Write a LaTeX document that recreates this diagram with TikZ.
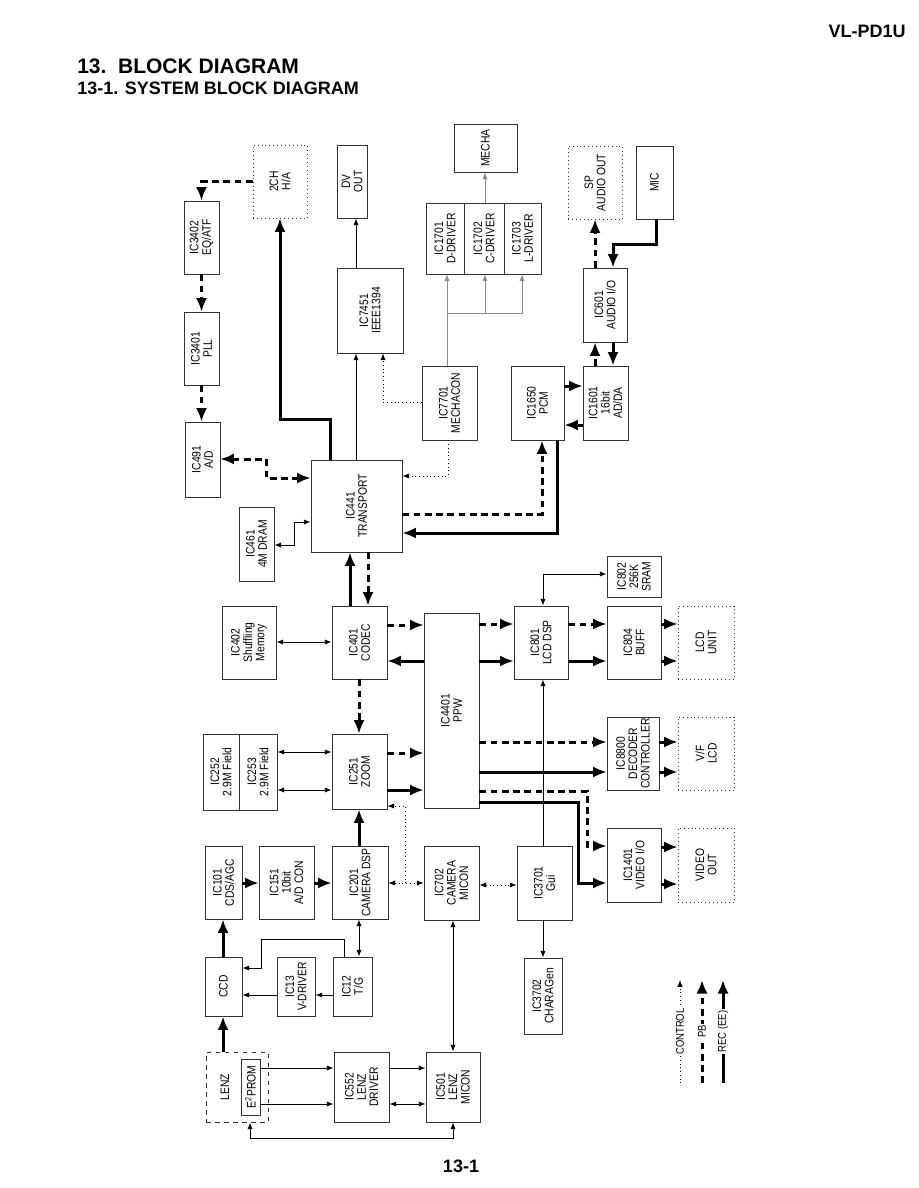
\documentclass[tikz,border=0pt]{standalone}
\usepackage{fontspec}
\setmainfont{Liberation Sans}
\newfontfamily\narrowsans[FakeStretch=0.84]{Liberation Sans}
\usetikzlibrary{arrows.meta}

\newcommand{\boxfont}{\narrowsans\fontsize{8.2}{8.2}\selectfont}
% block: name, x1, y1, x2, y2 (pixels), style, text
\newcommand{\blockat}[7]{%
  \pgfmathsetmacro{\bw}{(#4-#2)*0.6667}%
  \pgfmathsetmacro{\bh}{(#5-#3)*0.6667}%
  \node[#6, minimum width=\bw pt, minimum height=\bh pt,
    label={[rotate=90, align=center, font=\boxfont, inner sep=0pt]center:{#7}}]
    (#1) at ({(#2+#4)/2},{(#3+#5)/2}) {};}

\begin{document}
\begin{tikzpicture}[x=0.6667pt, y=-0.6667pt,
  blk/.style={draw=black!80, line width=0.6pt, inner sep=0pt},
  ext/.style={blk, dotted},
  lenzbox/.style={blk, dashed},
  sig/.style={line width=0.6pt, >={Latex[length=4.5pt,width=3.5pt]}, ->},
  ctl/.style={line width=0.5pt, dotted, >={Latex[length=4.5pt,width=3.5pt]}, ->},
  mech/.style={line width=0.5pt, black!45, >={Latex[length=4.5pt,width=3.5pt]}, ->},
  rec/.style={line width=2pt, >={Latex[length=9pt,width=7.5pt]}, ->},
  pb/.style={rec, dash pattern=on 4.5pt off 3pt},
  lgd/.style={rotate=90, fill=white, inner sep=1pt, font=\narrowsans\fontsize{7.5}{8}\selectfont}]
  \useasboundingbox (0,0) rectangle (918,1188);

  % Headings
  \node[font=\bfseries\fontsize{12}{14}\selectfont, anchor=east, inner sep=0] (model) at (906,31) {VL-PD1U};
  \node[font=\bfseries\fontsize{14}{17}\selectfont, anchor=west, inner sep=0] (title) at (77,66) {13.\ \ BLOCK DIAGRAM};
  \node[font=\bfseries\fontsize{12}{14}\selectfont, anchor=west, inner sep=0] (subtitle) at (77,88) {13-1. SYSTEM BLOCK DIAGRAM};
  \node[font=\bfseries\fontsize{12}{14}\selectfont, inner sep=0] (pageno) at (461,1166) {13-1};

  % Tape side
  \blockat{ha}{253}{145}{307}{218}{ext}{2CH\\H/A}
  \blockat{dvout}{337}{145}{367}{218}{blk}{DV\\OUT}
  \blockat{mecha}{454}{124}{517}{172}{blk}{MECHA}
  \blockat{drv1}{426}{203}{464}{274}{blk}{IC1701\\D-DRIVER}
  \blockat{drv2}{464}{203}{504}{274}{blk}{IC1702\\C-DRIVER}
  \blockat{drv3}{504}{203}{541}{274}{blk}{IC1703\\L-DRIVER}
  \blockat{spout}{568}{146}{622}{219}{ext}{SP\\AUDIO OUT}
  \blockat{mic}{636}{146}{673}{219}{blk}{MIC}
  \blockat{eqatf}{184}{201}{219}{274}{blk}{IC3402\\EQ/ATF}
  \blockat{pll}{184}{312}{219}{385}{blk}{IC3401\\PLL}
  \blockat{ieee}{337}{268}{403}{353}{blk}{IC7451\\IEEE1394}
  \blockat{audio}{583}{268}{627}{342}{blk}{IC601\\AUDIO I/O}
  \blockat{ad}{185}{422}{220}{497}{blk}{IC491\\A/D}
  \blockat{mechacon}{422}{366}{477}{440}{blk}{IC7701\\MECHACON}
  \blockat{pcm}{511}{366}{564}{440}{blk}{IC1650\\PCM}
  \blockat{adda}{583}{366}{628}{440}{blk}{IC1601\\16bit\\AD/DA}
  \blockat{transport}{311}{460}{402}{552}{blk}{IC441\\TRANSPORT}
  \blockat{dram}{239}{507}{274}{581}{blk}{IC461\\4M DRAM}

  % Video side
  \blockat{sram}{607}{556}{661}{597}{blk}{IC802\\256K\\SRAM}
  \blockat{shuf}{222}{606}{276}{679}{blk}{IC402\\Shuffling\\Memory}
  \blockat{codec}{332}{606}{387}{679}{blk}{IC401\\CODEC}
  \blockat{ppw}{424}{613}{479}{808}{blk}{IC4401\\PPW}
  \blockat{lcddsp}{514}{606}{568}{679}{blk}{IC801\\LCD DSP}
  \blockat{buff}{607}{606}{661}{679}{blk}{IC804\\BUFF}
  \blockat{lcdunit}{678}{606}{734}{679}{ext}{LCD\\UNIT}
  \blockat{fld1}{203}{734}{239}{810}{blk}{IC252\\2.9M Field}
  \blockat{fld2}{239}{734}{277}{810}{blk}{IC253\\2.9M Field}
  \blockat{zoom}{332}{734}{387}{809}{blk}{IC251\\ZOOM}
  \blockat{dec}{607}{717}{659}{790}{blk}{IC8800\\DECODER\\CONTROLLER}
  \blockat{vf}{678}{717}{734}{790}{ext}{V/F\\LCD}
  \blockat{vio}{607}{828}{661}{902}{blk}{IC1401\\VIDEO I/O}
  \blockat{vout}{678}{828}{734}{902}{ext}{VIDEO\\OUT}

  % Camera side
  \blockat{cds}{205}{846}{242}{919}{blk}{IC101\\CDS/AGC}
  \blockat{adcon}{259}{846}{314}{919}{blk}{IC151\\10bit\\A/D CON}
  \blockat{dsp}{332}{846}{388}{919}{blk}{IC201\\CAMERA DSP}
  \blockat{cmicon}{424}{846}{479}{920}{blk}{IC702\\CAMERA\\MICON}
  \blockat{gui}{517}{846}{572}{920}{blk}{IC3701\\Gui}
  \blockat{ccd}{205}{957}{242}{1016}{blk}{CCD}
  \blockat{vdrv}{277}{957}{315}{1016}{blk}{IC13\\V-DRIVER}
  \blockat{tg}{333}{957}{372}{1016}{blk}{IC12\\T/G}
  \blockat{chara}{524}{958}{562}{1034}{blk}{IC3702\\CHARAGen}
  \blockat{lenz}{206}{1052}{268}{1122}{lenzbox}{}
  \blockat{eprom}{241}{1059}{260}{1115}{blk}{E\textsuperscript{2}PROM}
  \blockat{ldrv}{334}{1052}{389}{1122}{blk}{IC552\\LENZ\\DRIVER}
  \blockat{lmicon}{426}{1052}{480}{1122}{blk}{IC501\\LENZ\\MICON}
  \node[rotate=90, font=\boxfont, inner sep=0pt] (lenzlbl) at (225,1087) {LENZ};

  % Heads and tape path
  \draw[pb] (ha.west |- 0,182) -| (eqatf.north);
  \draw[pb] (eqatf.south) -- (pll.north);
  \draw[pb] (pll.south) -- (pll.south |- ad.north);
  \draw[pb, <->] (ad.east |- 0,459) -| (266,478) -- (transport.west |- 0,478);
  \draw[rec] (transport.north -| 330,0) |- (280,419) -- (ha.south);
  \draw[sig] (transport.north -| 356,0) -- (ieee.south -| 356,0);
  \draw[sig] (ieee.north -| 356,0) -- (dvout.south -| 356,0);
  \draw[ctl] (mechacon.west |- 0,402) -| (ieee.south -| 383,0);
  \draw[ctl] (mechacon.south -| 448,0) |- (transport.east |- 0,476);
  \draw[mech] (mechacon.north -| 447,0) -- (drv1.south -| 447,0);
  \draw[mech] (447,313) -| (drv3.south -| 522,0);
  \draw[mech] (485,313) -- (drv2.south -| 485,0);
  \draw[mech] (drv2.north -| 485,0) -- (mecha.south -| 485,0);
  \draw[sig, <->] (dram.east |- 0,545) -| (294,522) -- (transport.west |- 0,522);

  % Audio
  \draw[pb] (audio.north -| 595,0) -- (spout.south -| 595,0);
  \draw[rec] (mic.south -| 656,0) |- (613,245) -- (audio.north -| 613,0);
  \draw[pb] (adda.north -| 595,0) -- (audio.south -| 595,0);
  \draw[rec] (audio.south -| 613,0) -- (adda.north -| 613,0);
  \draw[pb] (pcm.east |- 0,386) -- (adda.west |- 0,386);
  \draw[rec] (adda.west |- 0,425) -- (pcm.east |- 0,425);
  \draw[pb] (transport.east |- 0,514) -| (pcm.south -| 542,0);
  \draw[rec] (pcm.south -| 557,0) |- (transport.east |- 0,533);

  % Codec, zoom and PPW
  \draw[rec] (codec.north -| 350,0) -- (transport.south -| 350,0);
  \draw[pb] (transport.south -| 368,0) -- (codec.north -| 368,0);
  \draw[sig, <->] (shuf.east |- 0,642) -- (codec.west |- 0,642);
  \draw[pb] (codec.east |- 0,625) -- (ppw.west |- 0,625);
  \draw[rec] (ppw.west |- 0,661) -- (codec.east |- 0,661);
  \draw[pb] (codec.south -| 359,0) -- (zoom.north -| 359,0);
  \draw[sig, <->] (fld2.east |- 0,752) -- (zoom.west |- 0,752);
  \draw[sig, <->] (fld2.east |- 0,790) -- (zoom.west |- 0,790);
  \draw[pb] (zoom.east |- 0,753) -- (ppw.west |- 0,753);
  \draw[rec] (zoom.east |- 0,790) -- (ppw.west |- 0,790);

  % Displays and video out
  \draw[pb] (ppw.east |- 0,624) -- (lcddsp.west |- 0,624);
  \draw[rec] (ppw.east |- 0,661) -- (lcddsp.west |- 0,661);
  \draw[pb] (lcddsp.east |- 0,624) -- (buff.west |- 0,624);
  \draw[rec] (lcddsp.east |- 0,661) -- (buff.west |- 0,661);
  \draw[pb] (buff.east |- 0,624) -- (lcdunit.west |- 0,624);
  \draw[rec] (buff.east |- 0,661) -- (lcdunit.west |- 0,661);
  \draw[sig, <->] (lcddsp.north -| 543,0) |- (sram.west |- 0,574);
  \draw[pb] (ppw.east |- 0,742) -- (dec.west |- 0,742);
  \draw[rec] (ppw.east |- 0,772) -- (dec.west |- 0,772);
  \draw[pb] (dec.east |- 0,742) -- (vf.west |- 0,742);
  \draw[rec] (dec.east |- 0,772) -- (vf.west |- 0,772);
  \draw[pb] (ppw.east |- 0,791) -| (587,846) -- (vio.west |- 0,846);
  \draw[rec] (ppw.east |- 0,802) -| (578,883) -- (vio.west |- 0,883);
  \draw[pb] (vio.east |- 0,847) -- (vout.west |- 0,847);
  \draw[rec] (vio.east |- 0,884) -- (vout.west |- 0,884);
  \draw[sig] (gui.north -| 543,0) -- (lcddsp.south -| 543,0);
  \draw[sig] (gui.south -| 543,0) -- (chara.north -| 543,0);
  \draw[ctl, <->] (cmicon.east |- 0,885) -- (gui.west |- 0,885);

  % Camera
  \draw[ctl, <->] (dsp.east |- 0,883) -- (cmicon.west |- 0,883);
  \draw[ctl] (405,883) |- (zoom.east |- 0,806);
  \draw[rec] (dsp.north -| 359,0) -- (zoom.south -| 359,0);
  \draw[rec] (cds.east |- 0,883) -- (adcon.west |- 0,883);
  \draw[rec] (adcon.east |- 0,883) -- (dsp.west |- 0,883);
  \draw[rec] (ccd.north -| 223,0) -- (cds.south -| 223,0);
  \draw[rec] (lenz.north -| 223,0) -- (ccd.south -| 223,0);
  \draw[sig, <->] (dsp.south -| 359,0) -- (tg.north -| 359,0);
  \draw[sig] (tg.north -| 344,0) |- (261,939) |- (ccd.east |- 0,968);
  \draw[sig] (tg.west |- 0,995) -- (vdrv.east |- 0,995);
  \draw[sig] (vdrv.west |- 0,995) -- (ccd.east |- 0,995);

  % Lens
  \draw[sig] (eprom.east |- 0,1068) -- (ldrv.west |- 0,1068);
  \draw[sig] (eprom.east |- 0,1104) -- (ldrv.west |- 0,1104);
  \draw[sig] (ldrv.east |- 0,1068) -- (lmicon.west |- 0,1068);
  \draw[sig, <->] (ldrv.east |- 0,1104) -- (lmicon.west |- 0,1104);
  \draw[sig, <->] (lenz.south -| 250,0) |- (453,1138) -- (lmicon.south -| 453,0);
  \draw[sig, <->] (cmicon.south -| 453,0) -- (lmicon.north -| 453,0);

  % Legend
  \coordinate (ctlA) at (680,1083); \coordinate (ctlB) at (680,980);
  \coordinate (pbA) at (702,1083);  \coordinate (pbB) at (702,980);
  \coordinate (recA) at (723,1083); \coordinate (recB) at (723,980);
  \draw[ctl] (ctlA) -- node[lgd] (ctllbl) {CONTROL} (ctlB);
  \draw[pb] (pbA) -- node[lgd] (pblbl) {PB} (pbB);
  \draw[rec] (recA) -- node[lgd] (reclbl) {REC (EE)} (recB);
\end{tikzpicture}
\end{document}
